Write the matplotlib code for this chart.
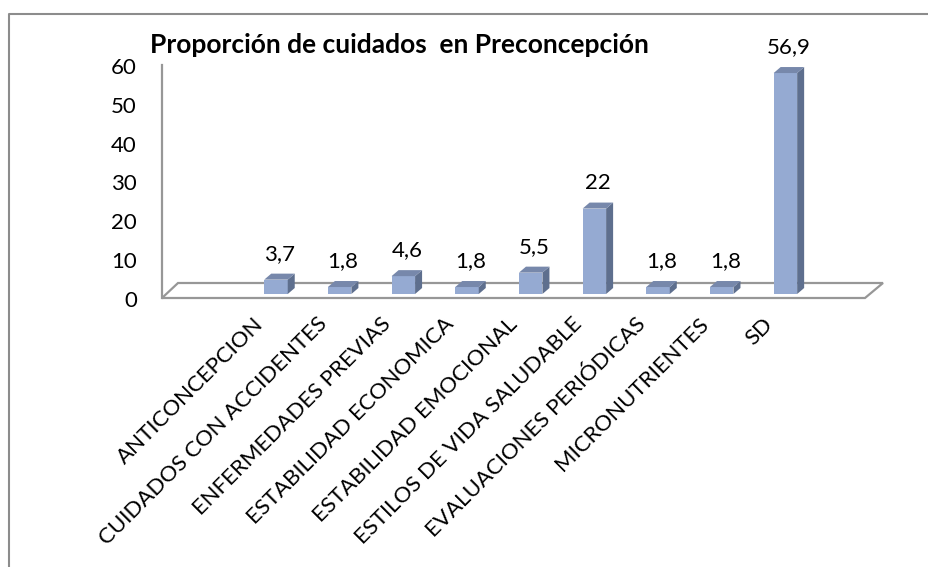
import matplotlib.pyplot as plt
from matplotlib.patches import Polygon
from matplotlib.lines import Line2D
from matplotlib.transforms import ScaledTranslation

# datos del grafico
categorias = ['ANTICONCEPCION', 'CUIDADOS CON ACCIDENTES', 'ENFERMEDADES PREVIAS',
              'ESTABILIDAD ECONOMICA', 'ESTABILIDAD EMOCIONAL', 'ESTILOS DE VIDA SALUDABLE',
              'EVALUACIONES PERIÓDICAS', 'MICRONUTRIENTES', 'SD']
valores = [3.7, 1.8, 4.6, 1.8, 5.5, 22, 1.8, 1.8, 56.9]
yticks = [0, 10, 20, 30, 40, 50, 60]
titulo = 'Proporción de cuidados  en Preconcepción'

plt.rcParams['font.family'] = ['Lato', 'DejaVu Sans']

W, H = 929, 567
fig = plt.figure(figsize=(W / 100, H / 100), dpi=100)

# marco exterior (solo arriba e izquierda visibles)
fig.add_artist(Line2D([9.5 / W, 9.5 / W, 1], [0, 1 - 14 / H, 1 - 14 / H],
                      color='#8c8c8c', lw=1.5, transform=fig.transFigure))

ax = fig.add_axes([162 / W, (H - 294) / H, (865 - 162) / W, 233 / H])
x0, x1 = -1.79, 9.25
ax.set_xlim(x0, x1)
ax.set_ylim(0, 60)
for s in ax.spines.values():
    s.set_visible(False)

xpx = 1 / 63.7   # una unidad de pixel en x
ypx = 60 / 233   # una unidad de pixel en y

# piso en "3D"
piso = Polygon([(x0, -4 * ypx), (x1, -4 * ypx), (x1 + 18 * xpx, 11 * ypx), (x0 + 16 * xpx, 11 * ypx)],
               closed=True, facecolor='white', edgecolor='#979797', lw=1.6, clip_on=False, zorder=1)
ax.add_patch(piso)
ax.plot([x0, x0], [-4 * ypx, 59], color='#979797', lw=1.6, clip_on=False, zorder=1)

frente = '#95aad2'
lado = '#5e6f8e'
tapa = '#7788ab'
ancho = 23.5 * xpx
dx, dy = 7 * xpx, 6 * ypx

xs = list(range(len(categorias)))
ax.bar(xs, valores, width=ancho, color=frente, zorder=3)
for i, v in zip(xs, valores):
    r = i + ancho / 2
    l = i - ancho / 2
    ax.add_patch(Polygon([(r, 0), (r, v), (r + dx, v + dy), (r + dx, dy)],
                         closed=True, facecolor=lado, edgecolor='none', zorder=3))
    ax.add_patch(Polygon([(l, v), (r, v), (r + dx, v + dy), (l + dx, v + dy)],
                         closed=True, facecolor=tapa, edgecolor='none', zorder=3))
    ax.annotate(f'{v:g}'.replace('.', ','), (i + dx / 2, v + dy), xytext=(0, 7),
                textcoords='offset points', ha='center', va='bottom', fontsize=16)

ax.set_yticks(yticks)
ax.set_yticklabels([str(t) for t in yticks], fontsize=16)
ax.tick_params(axis='y', length=0, pad=18)
for lbl in ax.get_yticklabels():
    lbl.set_transform(lbl.get_transform() + ScaledTranslation(0, -0.05, fig.dpi_scale_trans))

ax.set_xticks([])
for i, c in zip(xs, categorias):
    ax.text(i - 16 * xpx, -27 * ypx, c, rotation=45, rotation_mode='anchor',
            ha='right', va='center', fontsize=16, clip_on=False)

fig.text(150 / W, 1 - 45 / H, titulo, fontsize=19, fontweight='bold', ha='left', va='center')

fig.savefig('out.png', dpi=100)
